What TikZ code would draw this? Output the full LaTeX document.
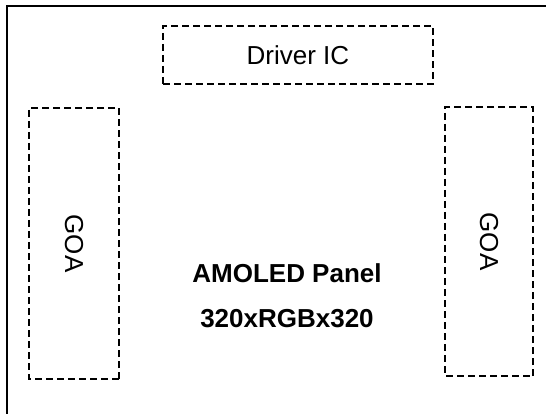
\documentclass[tikz,border=0pt]{standalone}
\usepackage{fontspec}
\setmainfont{Liberation Sans}
\usepackage{tikz}
\usetikzlibrary{positioning}

\begin{document}
\begin{tikzpicture}[x=1pt,y=-1pt,
block/.style={draw,line width=1.7pt,dash pattern=on 7pt off 4pt,inner sep=0pt,align=center,font=\fontsize{26}{30}\selectfont},
label/.style={inner sep=0pt,align=center,font=\fontsize{26}{45}\selectfont\bfseries}]
\useasboundingbox (0,0) rectangle (546,414);
% panel outline, runs off the page at right and bottom
\draw[line width=2pt] (6.5,6) rectangle (570,440);
\node[block,minimum width=270pt,minimum height=58pt] (drv) at (298,55) {Driver IC};
\node[block,rotate=-90,minimum width=271pt,minimum height=90pt] (goal) at (74,243.5) {GOA};
\node[block,rotate=-90,minimum width=269pt,minimum height=88pt] (goar) at (489,241.5) {GOA};
\node[label] (panel) at (287,296) {AMOLED Panel\\320xRGBx320};
\end{tikzpicture}
\end{document}
